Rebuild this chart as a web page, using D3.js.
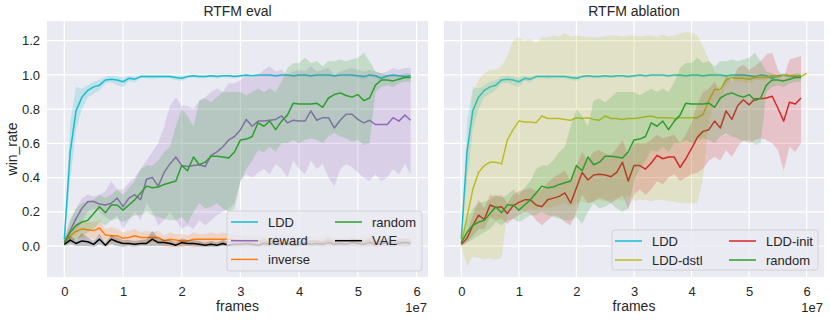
<!DOCTYPE html>
<html>
<head>
<meta charset="utf-8">
<script src="https://cdn.jsdelivr.net/npm/d3@7"></script>
<style>
  body { margin: 0; background: #fff; }
  text { font-family: "Liberation Sans", Arial, sans-serif; fill: #262626; }
</style>
</head>
<body>
<div id="root"></div>
<script>
const SVG_WIDTH = 830;
const SVG_HEIGHT = 320;

// frame index, in units of 1e6 frames
const FRAMES = [0, 1, 2, 3, 4, 5, 6, 7, 8, 9, 10, 11, 12, 13, 14, 15, 16, 17, 18, 19,
  20, 21, 22, 23, 24, 25, 26, 27, 28, 29, 30, 31, 32, 33, 34, 35, 36, 37, 38, 39,
  40, 41, 42, 43, 44, 45, 46, 47, 48, 49, 50, 51, 52, 53, 54, 55, 56, 57, 58, 59, 60];

const X_TICKS = [0, 1, 2, 3, 4, 5, 6]; // x 1e7
const Y_TICKS = [0, 0.2, 0.4, 0.6, 0.8, 1.0, 1.2];

// LDD (same run in both panels)
const LDD_MEAN = [0.04, 0.55, 0.79, 0.87, 0.91, 0.93, 0.94, 0.97, 0.975, 0.97,
  0.96, 0.98, 0.975, 0.99, 0.99, 0.99, 0.99, 0.99, 0.99, 0.985,
  0.98, 0.99, 0.995, 0.99, 0.99, 0.995, 0.99, 0.995, 0.995, 0.99,
  0.995, 1.0, 0.995, 1.0, 1.0, 1.0, 0.995, 1.0, 1.0, 0.995,
  1.0, 1.0, 0.995, 1.0, 1.0, 1.0, 0.995, 1.0, 1.0, 1.0,
  0.995, 0.99, 1.0, 0.995, 0.98, 0.995, 1.0, 0.995, 0.99, 0.995];
const LDD_LO = [0.03, 0.38, 0.68, 0.80, 0.87, 0.89, 0.91, 0.95, 0.955, 0.94,
  0.93, 0.965, 0.955, 0.98, 0.98, 0.975, 0.98, 0.98, 0.98, 0.97,
  0.965, 0.98, 0.985, 0.98, 0.98, 0.985, 0.98, 0.985, 0.985, 0.98,
  0.985, 0.99, 0.985, 0.99, 0.99, 0.99, 0.985, 0.99, 0.99, 0.985,
  0.99, 0.99, 0.985, 0.99, 0.99, 0.99, 0.985, 0.99, 0.99, 0.99,
  0.985, 0.975, 0.99, 0.985, 0.965, 0.985, 0.99, 0.985, 0.98, 0.985];
const LDD_HI = [0.05, 0.72, 0.93, 0.92, 0.94, 0.96, 0.97, 0.99, 0.995, 0.99,
  0.985, 0.995, 0.99, 1.0, 1.0, 1.0, 1.0, 1.0, 1.0, 0.995,
  0.995, 1.0, 1.0, 1.0, 1.0, 1.0, 1.0, 1.0, 1.0, 1.0,
  1.0, 1.0, 1.0, 1.0, 1.0, 1.0, 1.0, 1.0, 1.0, 1.0,
  1.0, 1.0, 1.0, 1.0, 1.0, 1.0, 1.0, 1.0, 1.0, 1.0,
  1.0, 1.0, 1.0, 1.0, 0.995, 1.0, 1.0, 1.0, 1.0, 1.0];

const REWARD_MEAN = [0.025, 0.09, 0.16, 0.22, 0.26, 0.26, 0.245, 0.24, 0.25, 0.28,
  0.23, 0.28, 0.30, 0.27, 0.39, 0.40, 0.35, 0.43, 0.48, 0.52,
  0.47, 0.465, 0.47, 0.475, 0.465, 0.53, 0.55, 0.58, 0.62, 0.64,
  0.68, 0.74, 0.70, 0.73, 0.73, 0.735, 0.74, 0.76, 0.72, 0.735,
  0.73, 0.73, 0.79, 0.735, 0.75, 0.75, 0.69, 0.735, 0.77, 0.77,
  0.74, 0.72, 0.735, 0.71, 0.71, 0.71, 0.75, 0.73, 0.765, 0.735];
const REWARD_LO = [0.01, 0.04, 0.08, 0.14, 0.2, 0.22, 0.2, 0.17, 0.15, 0.18,
  0.1, 0.15, 0.2, 0.15, 0.25, 0.2, 0.12, 0.15, 0.2, 0.15,
  0.1, 0.12, 0.1, 0.15, 0.12, 0.15, 0.18, 0.2, 0.22, 0.25,
  0.38, 0.42, 0.4, 0.43, 0.45, 0.42, 0.48, 0.45, 0.4, 0.5,
  0.45, 0.42, 0.5, 0.45, 0.48, 0.4, 0.35, 0.45, 0.48, 0.46,
  0.43, 0.4, 0.38, 0.42, 0.38, 0.4, 0.45, 0.42, 0.48, 0.42];
const REWARD_HI = [0.04, 0.14, 0.22, 0.28, 0.3, 0.29, 0.3, 0.32, 0.38, 0.33,
  0.33, 0.37, 0.4, 0.45, 0.5, 0.55, 0.6, 0.7, 0.82, 0.87,
  0.82, 0.82, 0.8, 0.85, 0.87, 0.9, 0.92, 0.9, 0.95, 0.95,
  0.97, 1.0, 0.98, 1.0, 1.03, 1.05, 1.02, 1.03, 1.0, 1.02,
  1.03, 1.02, 1.05, 1.02, 1.03, 1.04, 1.0, 1.02, 1.03, 1.04,
  1.03, 1.02, 1.03, 1.02, 1.01, 1.02, 1.04, 1.03, 1.04, 1.04];

// random (same run in both panels)
const RANDOM_MEAN = [0.02, 0.08, 0.12, 0.14, 0.15, 0.19, 0.23, 0.195, 0.24, 0.24,
  0.21, 0.24, 0.27, 0.31, 0.35, 0.34, 0.345, 0.36, 0.37, 0.38,
  0.47, 0.44, 0.52, 0.475, 0.49, 0.525, 0.525, 0.52, 0.515, 0.55,
  0.62, 0.625, 0.64, 0.72, 0.70, 0.73, 0.68, 0.73, 0.765, 0.835,
  0.83, 0.83, 0.83, 0.835, 0.81, 0.865, 0.885, 0.895, 0.88, 0.87,
  0.885, 0.85, 0.865, 0.94, 0.97, 0.97, 0.965, 0.975, 0.985, 0.985];
const RANDOM_LO = [0.0, 0.02, 0.04, 0.06, 0.08, 0.1, 0.14, 0.12, 0.15, 0.16,
  0.14, 0.16, 0.18, 0.18, 0.2, 0.18, 0.17, 0.16, 0.15, 0.15,
  0.17, 0.13, 0.2, 0.25, 0.22, 0.23, 0.25, 0.22, 0.2, 0.22,
  0.38, 0.45, 0.5, 0.56, 0.55, 0.58, 0.55, 0.6, 0.6, 0.62,
  0.6, 0.62, 0.63, 0.62, 0.6, 0.64, 0.66, 0.64, 0.63, 0.61,
  0.62, 0.59, 0.6, 0.9, 0.93, 0.94, 0.93, 0.95, 0.96, 0.96];
const RANDOM_HI = [0.04, 0.16, 0.22, 0.25, 0.26, 0.27, 0.3, 0.28, 0.3, 0.33,
  0.3, 0.34, 0.38, 0.45, 0.47, 0.47, 0.5, 0.55, 0.58, 0.7,
  0.8, 0.76, 0.7, 0.85, 0.86, 0.84, 0.87, 0.9, 0.9, 0.9,
  0.9, 0.88, 0.9, 0.92, 0.9, 0.92, 0.9, 0.96, 1.04, 1.07,
  1.07, 1.1, 1.07, 1.08, 1.05, 1.08, 1.08, 1.09, 1.08, 1.09,
  1.1, 1.13, 1.08, 1.02, 1.01, 1.0, 1.0, 1.0, 1.01, 1.01];

const INVERSE_MEAN = [0.025, 0.06, 0.085, 0.1, 0.095, 0.09, 0.105, 0.065, 0.06, 0.06,
  0.045, 0.05, 0.06, 0.05, 0.05, 0.05, 0.05, 0.03, 0.04, 0.035,
  0.03, 0.03, 0.04, 0.04, 0.04, 0.04, 0.04, 0.04, 0.04, 0.035,
  0.03, 0.03, 0.025, 0.03, 0.02, 0.025, 0.03, 0.02, 0.025, 0.03,
  0.025, 0.02, 0.03, 0.025, 0.02, 0.03, 0.025, 0.02, 0.025, 0.03,
  0.02, 0.025, 0.03, 0.02, 0.025, 0.02, 0.03, 0.025, 0.02, 0.025];
const INVERSE_LO = [0.01, 0.03, 0.04, 0.05, 0.05, 0.04, 0.06, 0.03, 0.02, 0.02,
  0.01, 0.02, 0.02, 0.01, 0.01, 0.02, 0.01, 0.0, -0.01, 0.0,
  -0.01, 0.0, -0.01, 0.0, 0.01, 0.0, 0.01, 0.0, 0.01, 0.0,
  0.0, -0.005, 0.0, 0.0, -0.005, 0.0, 0.0, -0.005, 0.0, 0.0,
  0.0, -0.005, 0.0, 0.0, -0.005, 0.0, 0.0, -0.005, 0.0, 0.0,
  -0.005, 0.0, 0.0, -0.005, 0.0, -0.005, 0.0, 0.0, -0.005, 0.0];
const INVERSE_HI = [0.04, 0.1, 0.13, 0.15, 0.14, 0.14, 0.15, 0.1, 0.11, 0.1,
  0.08, 0.09, 0.1, 0.08, 0.09, 0.08, 0.09, 0.06, 0.08, 0.07,
  0.07, 0.06, 0.08, 0.07, 0.07, 0.08, 0.07, 0.08, 0.07, 0.07,
  0.06, 0.06, 0.05, 0.06, 0.045, 0.05, 0.06, 0.045, 0.05, 0.06,
  0.05, 0.045, 0.06, 0.05, 0.045, 0.06, 0.05, 0.045, 0.05, 0.06,
  0.045, 0.05, 0.06, 0.045, 0.05, 0.045, 0.06, 0.05, 0.045, 0.05];

const VAE_MEAN = [0.01, 0.035, 0.015, 0.03, 0.025, 0.01, 0.04, 0.005, 0.04, 0.025,
  0.015, 0.015, 0.01, 0.015, 0.015, 0.04, 0.02, 0.02, 0.015, 0.005,
  0.02, 0.015, 0.015, 0.01, 0.005, 0.01, 0.005, 0.015, 0.005, 0.01,
  0.01, 0.015, 0.01, 0.005, 0.015, 0.01, 0.02, 0.01, 0.015, 0.005,
  0.01, 0.02, 0.01, 0.015, 0.01, 0.02, 0.01, 0.015, 0.01, 0.02,
  0.015, 0.01, 0.02, 0.01, 0.015, 0.02, 0.01, 0.015, 0.02, 0.015];
const VAE_LO = [0.0, 0.01, 0.0, 0.0, 0.0, -0.005, 0.01, -0.005, 0.01, 0.0,
  -0.005, 0.0, -0.005, 0.0, 0.0, 0.0, 0.0, 0.0, 0.0, -0.005,
  0.0, 0.0, 0.0, -0.005, -0.005, -0.005, -0.005, 0.0, -0.005, -0.005,
  -0.005, 0.0, -0.005, -0.005, 0.0, -0.005, 0.0, -0.005, 0.0, -0.005,
  -0.005, 0.0, -0.005, 0.0, -0.005, 0.0, -0.005, 0.0, -0.005, 0.0,
  0.0, -0.005, 0.0, -0.005, 0.0, 0.0, -0.005, 0.0, 0.0, 0.0];
const VAE_HI = [0.02, 0.06, 0.035, 0.075, 0.05, 0.03, 0.07, 0.02, 0.065, 0.05,
  0.035, 0.035, 0.03, 0.035, 0.04, 0.09, 0.045, 0.04, 0.035, 0.02,
  0.045, 0.035, 0.035, 0.03, 0.02, 0.03, 0.02, 0.035, 0.02, 0.03,
  0.03, 0.04, 0.03, 0.025, 0.05, 0.03, 0.045, 0.03, 0.04, 0.025,
  0.03, 0.05, 0.03, 0.04, 0.03, 0.05, 0.03, 0.04, 0.03, 0.045,
  0.04, 0.03, 0.05, 0.03, 0.04, 0.045, 0.03, 0.04, 0.045, 0.04];

// LDD-dstl has one extra point at 6e7
const DSTL_MEAN = [0.015, 0.17, 0.33, 0.43, 0.47, 0.49, 0.49, 0.48, 0.62, 0.68,
  0.73, 0.725, 0.725, 0.72, 0.76, 0.745, 0.745, 0.745, 0.74, 0.735,
  0.75, 0.745, 0.75, 0.74, 0.735, 0.76, 0.745, 0.745, 0.74, 0.745,
  0.745, 0.75, 0.755, 0.76, 0.75, 0.75, 0.75, 0.745, 0.75, 0.75,
  0.75, 0.75, 0.77, 0.85, 0.915, 0.915, 0.97, 0.985, 0.98, 0.98,
  0.975, 0.985, 0.985, 0.985, 0.995, 0.99, 1.0, 0.995, 0.995, 0.99, 1.01];
const DSTL_LO = [0.0, -0.12, -0.06, -0.07, -0.08, -0.07, -0.08, -0.07, 0.19, 0.24,
  0.22, 0.2, 0.22, 0.21, 0.24, 0.22, 0.23, 0.24, 0.25, 0.23,
  0.25, 0.26, 0.25, 0.26, 0.27, 0.26, 0.27, 0.28, 0.26, 0.3,
  0.26, 0.27, 0.27, 0.26, 0.27, 0.27, 0.26, 0.26, 0.25, 0.25,
  0.25, 0.25, 0.4, 0.72, 0.85, 0.86, 0.94, 0.97, 0.96, 0.96,
  0.95, 0.97, 0.97, 0.97, 0.985, 0.98, 0.99, 0.985, 0.985, 0.98, 1.01];
const DSTL_HI = [0.03, 0.5, 0.9, 0.97, 1.01, 1.03, 1.03, 1.05, 1.11, 1.2,
  1.22, 1.2, 1.21, 1.185, 1.22, 1.22, 1.23, 1.225, 1.245, 1.225,
  1.23, 1.225, 1.225, 1.22, 1.22, 1.225, 1.23, 1.23, 1.225, 1.23,
  1.23, 1.225, 1.23, 1.23, 1.225, 1.235, 1.225, 1.23, 1.24, 1.25,
  1.245, 1.23, 1.165, 1.09, 1.02, 1.0, 1.0, 1.0, 1.0, 0.995,
  0.995, 1.0, 1.0, 1.0, 1.005, 1.0, 1.01, 1.005, 1.005, 1.0, 1.01];

const INIT_MEAN = [0.01, 0.045, 0.12, 0.18, 0.155, 0.24, 0.225, 0.23, 0.19, 0.235,
  0.255, 0.27, 0.27, 0.24, 0.23, 0.27, 0.28, 0.29, 0.31, 0.25,
  0.34, 0.43, 0.386, 0.415, 0.42, 0.415, 0.405, 0.43, 0.49, 0.38,
  0.47, 0.47, 0.45, 0.485, 0.53, 0.51, 0.52, 0.52, 0.46, 0.51,
  0.57, 0.635, 0.67, 0.68, 0.73, 0.69, 0.79, 0.74, 0.82, 0.855,
  0.825, 0.86, 0.86, 0.865, 0.875, 0.805, 0.73, 0.84, 0.83, 0.865];
const INIT_LO = [0.0, 0.02, 0.06, 0.1, 0.1, 0.17, 0.15, 0.16, 0.13, 0.16,
  0.18, 0.2, 0.19, 0.15, 0.12, 0.15, 0.18, 0.17, 0.14, 0.12,
  0.2, 0.3, 0.25, 0.26, 0.28, 0.27, 0.25, 0.27, 0.3, 0.22,
  0.3, 0.33, 0.3, 0.33, 0.38, 0.36, 0.4, 0.42, 0.38, 0.4,
  0.42, 0.43, 0.45, 0.5, 0.52, 0.5, 0.56, 0.52, 0.58, 0.62,
  0.6, 0.62, 0.63, 0.62, 0.6, 0.56, 0.44, 0.58, 0.55, 0.6];
const INIT_HI = [0.02, 0.08, 0.18, 0.27, 0.22, 0.3, 0.29, 0.3, 0.25, 0.3,
  0.32, 0.33, 0.34, 0.32, 0.33, 0.37, 0.4, 0.42, 0.44, 0.38,
  0.47, 0.55, 0.5, 0.55, 0.56, 0.54, 0.53, 0.57, 0.62, 0.53,
  0.6, 0.6, 0.6, 0.62, 0.65, 0.63, 0.64, 0.65, 0.6, 0.65,
  0.72, 0.83, 0.9, 0.92, 0.96, 0.9, 1.0, 0.96, 1.04, 1.06,
  1.03, 1.05, 1.08, 1.12, 1.13, 1.03, 0.98, 1.09, 1.1, 1.11];

const LEFT_SERIES = [
  { name: 'LDD', color: '#17becf', mean: LDD_MEAN, lo: LDD_LO, hi: LDD_HI },
  { name: 'reward', color: '#9467bd', mean: REWARD_MEAN, lo: REWARD_LO, hi: REWARD_HI },
  { name: 'inverse', color: '#ff7f0e', mean: INVERSE_MEAN, lo: INVERSE_LO, hi: INVERSE_HI },
  { name: 'random', color: '#2ca02c', mean: RANDOM_MEAN, lo: RANDOM_LO, hi: RANDOM_HI },
  { name: 'VAE', color: '#000000', mean: VAE_MEAN, lo: VAE_LO, hi: VAE_HI },
];
const RIGHT_SERIES = [
  { name: 'LDD', color: '#17becf', mean: LDD_MEAN, lo: LDD_LO, hi: LDD_HI },
  { name: 'LDD-dstl', color: '#bcbd22', mean: DSTL_MEAN, lo: DSTL_LO, hi: DSTL_HI },
  { name: 'LDD-init', color: '#d62728', mean: INIT_MEAN, lo: INIT_LO, hi: INIT_HI },
  { name: 'random', color: '#2ca02c', mean: RANDOM_MEAN, lo: RANDOM_LO, hi: RANDOM_HI },
];

const PLOT_TOP = 21;
const PLOT_BOTTOM = 277;

function addSvg() {
  const svg = document.createElementNS('http://www.w3.org/2000/svg', 'svg');
  svg.id = 'svg';
  svg.setAttribute('width', SVG_WIDTH);
  svg.setAttribute('height', SVG_HEIGHT);
  return svg;
}

function drawPanel(cfg) {
  const svg = d3.select('#svg');
  const x = d3.scaleLinear().domain(cfg.xDomain).range([cfg.left, cfg.right]);
  const y = d3.scaleLinear().domain([-0.181, 1.315]).range([PLOT_BOTTOM, PLOT_TOP]);
  const g = svg.append('g');

  g.append('rect')
    .attr('x', cfg.left).attr('y', PLOT_TOP)
    .attr('width', cfg.right - cfg.left).attr('height', PLOT_BOTTOM - PLOT_TOP)
    .attr('fill', '#eaeaf2');

  // grid
  g.selectAll('.vgrid').data(X_TICKS).join('line')
    .attr('x1', (d) => x(d * 1e7)).attr('x2', (d) => x(d * 1e7))
    .attr('y1', PLOT_TOP).attr('y2', PLOT_BOTTOM)
    .attr('stroke', '#fff').attr('stroke-width', 1.2);
  g.selectAll('.hgrid').data(Y_TICKS).join('line')
    .attr('x1', cfg.left).attr('x2', cfg.right)
    .attr('y1', (d) => y(d)).attr('y2', (d) => y(d))
    .attr('stroke', '#fff').attr('stroke-width', 1.2);

  const clipId = 'clip-' + cfg.id;
  svg.append('clipPath').attr('id', clipId).append('rect')
    .attr('x', cfg.left).attr('y', PLOT_TOP)
    .attr('width', cfg.right - cfg.left).attr('height', PLOT_BOTTOM - PLOT_TOP);
  const plot = g.append('g').attr('clip-path', `url(#${clipId})`);

  cfg.series.forEach((s) => {
    const area = d3.area()
      .x((d, i) => x(FRAMES[i] * 1e6))
      .y0((d, i) => y(s.lo[i]))
      .y1((d, i) => y(s.hi[i]));
    const line = d3.line()
      .x((d, i) => x(FRAMES[i] * 1e6))
      .y((d) => y(d));
    plot.append('path').attr('d', area(s.mean))
      .attr('fill', s.color).attr('fill-opacity', 0.2).attr('stroke', 'none');
    plot.append('path').attr('d', line(s.mean))
      .attr('fill', 'none').attr('stroke', s.color).attr('stroke-width', 1.5)
      .attr('stroke-linejoin', 'round');
  });

  // axes
  const xAxis = g.append('g').attr('transform', `translate(0,${PLOT_BOTTOM})`)
    .call(d3.axisBottom(x).tickValues(X_TICKS.map((d) => d * 1e7))
      .tickFormat((d) => String(d / 1e7)).tickSize(0).tickPadding(10));
  xAxis.select('.domain').remove();
  xAxis.selectAll('text').attr('font-size', 13).attr('fill', '#262626')
    .attr('font-family', '"Liberation Sans", Arial, sans-serif');

  if (cfg.yLabels) {
    const yAxis = g.append('g').attr('transform', `translate(${cfg.left},0)`)
      .call(d3.axisLeft(y).tickValues(Y_TICKS).tickFormat(d3.format('.1f'))
        .tickSize(0).tickPadding(7));
    yAxis.select('.domain').remove();
    yAxis.selectAll('text').attr('font-size', 13).attr('fill', '#262626')
      .attr('font-family', '"Liberation Sans", Arial, sans-serif');
    g.append('text')
      .attr('transform', `translate(17,${(PLOT_TOP + PLOT_BOTTOM) / 2}) rotate(-90)`)
      .attr('text-anchor', 'middle').attr('font-size', 14).text('win_rate');
  }

  const cx = (cfg.left + cfg.right) / 2;
  g.append('text').attr('x', cx).attr('y', 16).attr('text-anchor', 'middle')
    .attr('font-size', 14).text(cfg.title);
  g.append('text').attr('x', cx).attr('y', 311).attr('text-anchor', 'middle')
    .attr('font-size', 14).text('frames');
  g.append('text').attr('x', cfg.right - 1).attr('y', 312).attr('text-anchor', 'end')
    .attr('font-size', 13).text('1e7');

  // legend
  const L = cfg.legend;
  const lg = g.append('g');
  lg.append('rect').attr('x', L.x).attr('y', L.y).attr('width', L.w).attr('height', L.h)
    .attr('rx', 3).attr('fill', '#eaeaf2').attr('fill-opacity', 0.8)
    .attr('stroke', '#cccccc').attr('stroke-width', 0.8);
  const rows = Math.ceil(cfg.series.length / 2);
  cfg.series.forEach((s, i) => {
    const col = Math.floor(i / rows);
    const row = i % rows;
    const lx = L.cols[col];
    const ly = L.row0 + row * L.rowStep;
    lg.append('line').attr('x1', lx).attr('x2', lx + 27).attr('y1', ly).attr('y2', ly)
      .attr('stroke', s.color).attr('stroke-width', 1.5);
    lg.append('text').attr('x', lx + 37).attr('y', ly).attr('dy', '0.35em')
      .attr('font-size', 13).text(s.name);
  });
}

function main() {
  drawPanel({
    id: 'eval', title: 'RTFM eval', left: 47, right: 428,
    xDomain: [-0.295e7, 6.195e7], yLabels: true, series: LEFT_SERIES,
    legend: { x: 227, y: 211, w: 195, h: 60, row0: 222, rowStep: 18.7, cols: [231, 335] },
  });
  drawPanel({
    id: 'ablation', title: 'RTFM ablation', left: 444, right: 824,
    xDomain: [-0.3e7, 6.3e7], yLabels: false, series: RIGHT_SERIES,
    legend: { x: 612, y: 230, w: 206, h: 40, row0: 241, rowStep: 19, cols: [615, 729] },
  });
}

const root = document.getElementById('root');
root.appendChild(addSvg());
main();
</script>
</body>
</html>
